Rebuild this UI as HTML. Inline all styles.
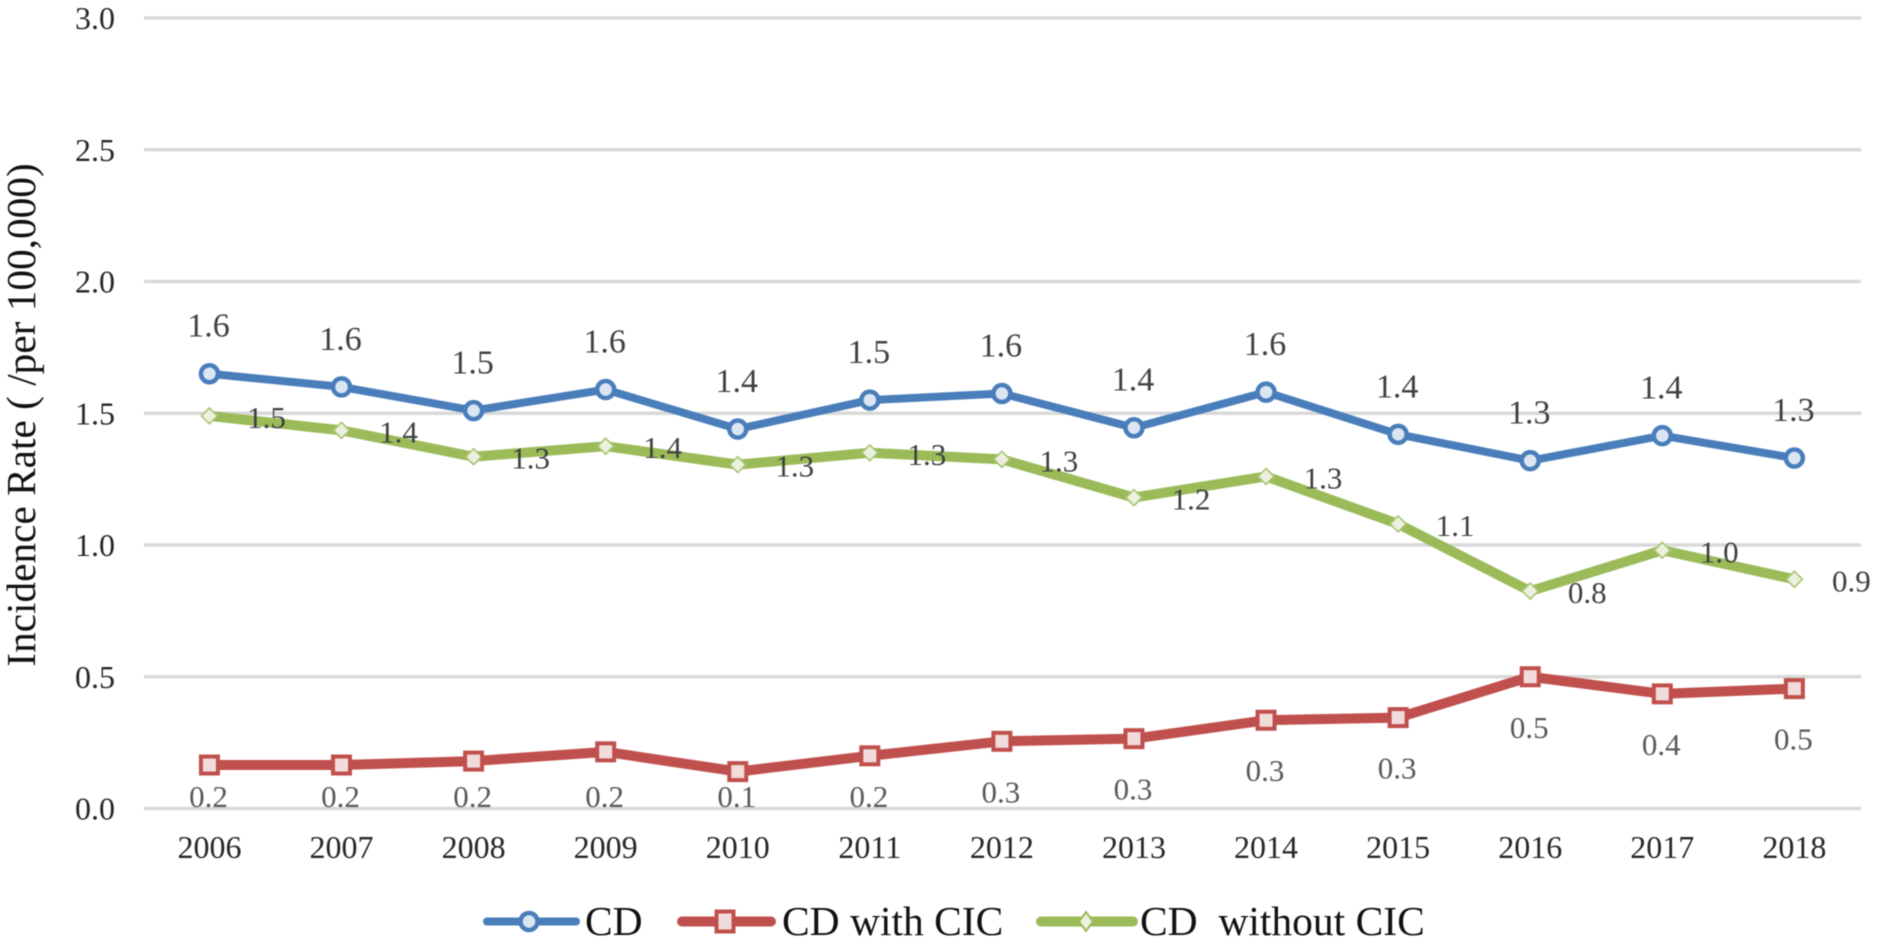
<!DOCTYPE html>
<html lang="en">
<head>
<meta charset="utf-8">
<title>CD incidence rate 2006–2018</title>
<style>
html,body{margin:0;padding:0;background:#fff;width:1889px;height:946px;overflow:hidden}
svg{display:block;filter:blur(.45px)}
text{font-family:"Liberation Serif",serif}
</style>
</head>
<body>
<svg id="chart" xmlns="http://www.w3.org/2000/svg" width="1889" height="946" viewBox="0 0 1889 946">
  <rect width="1889" height="946" fill="#fff"/>
  <g id="grid"></g>
  <g id="yticks"></g>
  <g id="xticks"></g>
  <text transform="translate(35,415) rotate(-90)" text-anchor="middle" font-size="41.3" fill="#111">Incidence Rate ( /per 100,000)</text>
  <g id="series"></g>
  <g>
    <g>
      <line x1="487" y1="921.5" x2="576" y2="921.5" stroke="#4a7ebb" stroke-width="8" stroke-linecap="round"/>
      <circle cx="529" cy="921.5" r="8.5" fill="#dce6f2" stroke="#4a7ebb" stroke-width="4.5"/>
      <text x="585" y="935" font-size="41.5" fill="#111">CD</text>
    </g>
    <g>
      <line x1="682" y1="921.5" x2="771" y2="921.5" stroke="#c0504d" stroke-width="10" stroke-linecap="round"/>
      <rect x="720" y="911.5" width="17" height="20" fill="#f2dcdb" stroke="#c0504d" stroke-width="4" transform="translate(-3.5,0)"/>
      <text x="782" y="935" font-size="41.5" fill="#111">CD with CIC</text>
    </g>
    <g>
      <line x1="1041" y1="921.5" x2="1133" y2="921.5" stroke="#9bbb59" stroke-width="10" stroke-linecap="round"/>
      <path d="M1091 912 L1098 921.5 L1091 931 L1084 921.5 Z" fill="#ebf1de" stroke="#9bbb59" stroke-width="2" transform="translate(-5,0)"/>
      <text x="1140" y="935" font-size="41.5" fill="#111" xml:space="preserve">CD  without CIC</text>
    </g>
  </g>
</svg>
<script>
var years = ['2006','2007','2008','2009','2010','2011','2012','2013','2014','2015','2016','2017','2018'];
var yTicks = [0, 0.5, 1, 1.5, 2, 2.5, 3];
var cdValues = [1.65, 1.60, 1.51, 1.59, 1.44, 1.55, 1.575, 1.445, 1.58, 1.42, 1.32, 1.415, 1.33];
var cdLabels = ['1.6','1.6','1.5','1.6','1.4','1.5','1.6','1.4','1.6','1.4','1.3','1.4','1.3'];
var withCicValues = [0.165, 0.165, 0.18, 0.215, 0.14, 0.20, 0.255, 0.265, 0.335, 0.345, 0.50, 0.435, 0.455];
var withCicLabels = ['0.2','0.2','0.2','0.2','0.1','0.2','0.3','0.3','0.3','0.3','0.5','0.4','0.5'];
var withoutCicValues = [1.49, 1.435, 1.335, 1.375, 1.305, 1.35, 1.325, 1.18, 1.26, 1.08, 0.825, 0.98, 0.87];
var withoutCicLabels = ['1.5','1.4','1.3','1.4','1.3','1.3','1.3','1.2','1.3','1.1','0.8','1.0','0.9'];

var NS = 'http://www.w3.org/2000/svg';
var plotLeft = 144, plotRight = 1861, plotZero = 808.5, plotTop = 18;
function xPos(i){ return plotLeft - 0.6 + (i + 0.5) * (plotRight - plotLeft) / years.length; }
function yPos(v){ return plotZero - v * (plotZero - plotTop) / 3; }
function make(tag, attrs, parent){
  var el = document.createElementNS(NS, tag);
  for (var k in attrs) el.setAttribute(k, attrs[k]);
  parent.appendChild(el);
  return el;
}
var gridG = document.getElementById('grid');
var yG = document.getElementById('yticks');
var xG = document.getElementById('xticks');
var seriesG = document.getElementById('series');

yTicks.forEach(function(t){
  var line = make('line', {x1: plotLeft, x2: plotRight, y1: yPos(t), y2: yPos(t), stroke: '#d9d9d9', 'stroke-width': 3.5}, gridG);
  
  
  var label = make('text', {x: 115, y: yPos(t) + 11, 'text-anchor': 'end', 'font-size': 32, fill: '#262626'}, yG);
  label.textContent = t.toFixed(1);
  
  
});
years.forEach(function(y, i){
  var label = make('text', {x: xPos(i), y: 858, 'text-anchor': 'middle', 'font-size': 32, fill: '#262626'}, xG);
  label.textContent = y;
  
  
});

function drawLine(values, color, width, name){
  var pts = values.map(function(v, i){ return xPos(i) + ',' + yPos(v); }).join(' ');
  var line = make('polyline', {points: pts, fill: 'none', stroke: color, 'stroke-width': width, 'stroke-linejoin': 'round'}, seriesG);
  
  
}
function drawCircles(values){
  values.forEach(function(v, i){
    var m = make('circle', {cx: xPos(i), cy: yPos(v), r: 8.5, fill: '#dce6f2', stroke: '#4a7ebb', 'stroke-width': 4.5}, seriesG);
    
    
  });
}
function drawSquares(values){
  values.forEach(function(v, i){
    var m = make('rect', {x: xPos(i) - 8.5, y: yPos(v) - 8.5, width: 17, height: 17, fill: '#f2dcdb', stroke: '#c0504d', 'stroke-width': 4}, seriesG);
    
    
  });
}
function drawDiamonds(values){
  values.forEach(function(v, i){
    var x = xPos(i), y = yPos(v);
    var d = 'M' + x + ' ' + (y - 8) + ' L' + (x + 8) + ' ' + y + ' L' + x + ' ' + (y + 8) + ' L' + (x - 8) + ' ' + y + ' Z';
    var m = make('path', {d: d, fill: '#ebf1de', stroke: '#a9c572', 'stroke-width': 1.6}, seriesG);
    
    
  });
}
function drawLabels(values, labels, place, size, color, name){
  values.forEach(function(v, i){
    var p = place(xPos(i), yPos(v));
    var t = make('text', {x: p[0], y: p[1], 'text-anchor': 'middle', 'font-size': size, fill: color}, seriesG);
    t.textContent = labels[i];
    
    
  });
}

drawLine(withCicValues, '#c0504d', 10, 'cd-with-cic-line');
drawLine(withoutCicValues, '#9bbb59', 10, 'cd-without-cic-line');
drawLine(cdValues, '#4a7ebb', 8, 'cd-line');
drawSquares(withCicValues);
drawDiamonds(withoutCicValues);
drawCircles(cdValues);
drawLabels(cdValues, cdLabels, function(x, y){ return [x - 1, y - 37]; }, 34, '#404040', 'cd-value-label');
drawLabels(withoutCicValues, withoutCicLabels, function(x, y){ return [x + 57, y + 12]; }, 31, '#404040', 'cd-without-cic-value-label');
drawLabels(withCicValues, withCicLabels, function(x, y){ return [x - 1, Math.min(y + 61, 807)]; }, 31, '#595959', 'cd-with-cic-value-label');
</script>
</body>
</html>
